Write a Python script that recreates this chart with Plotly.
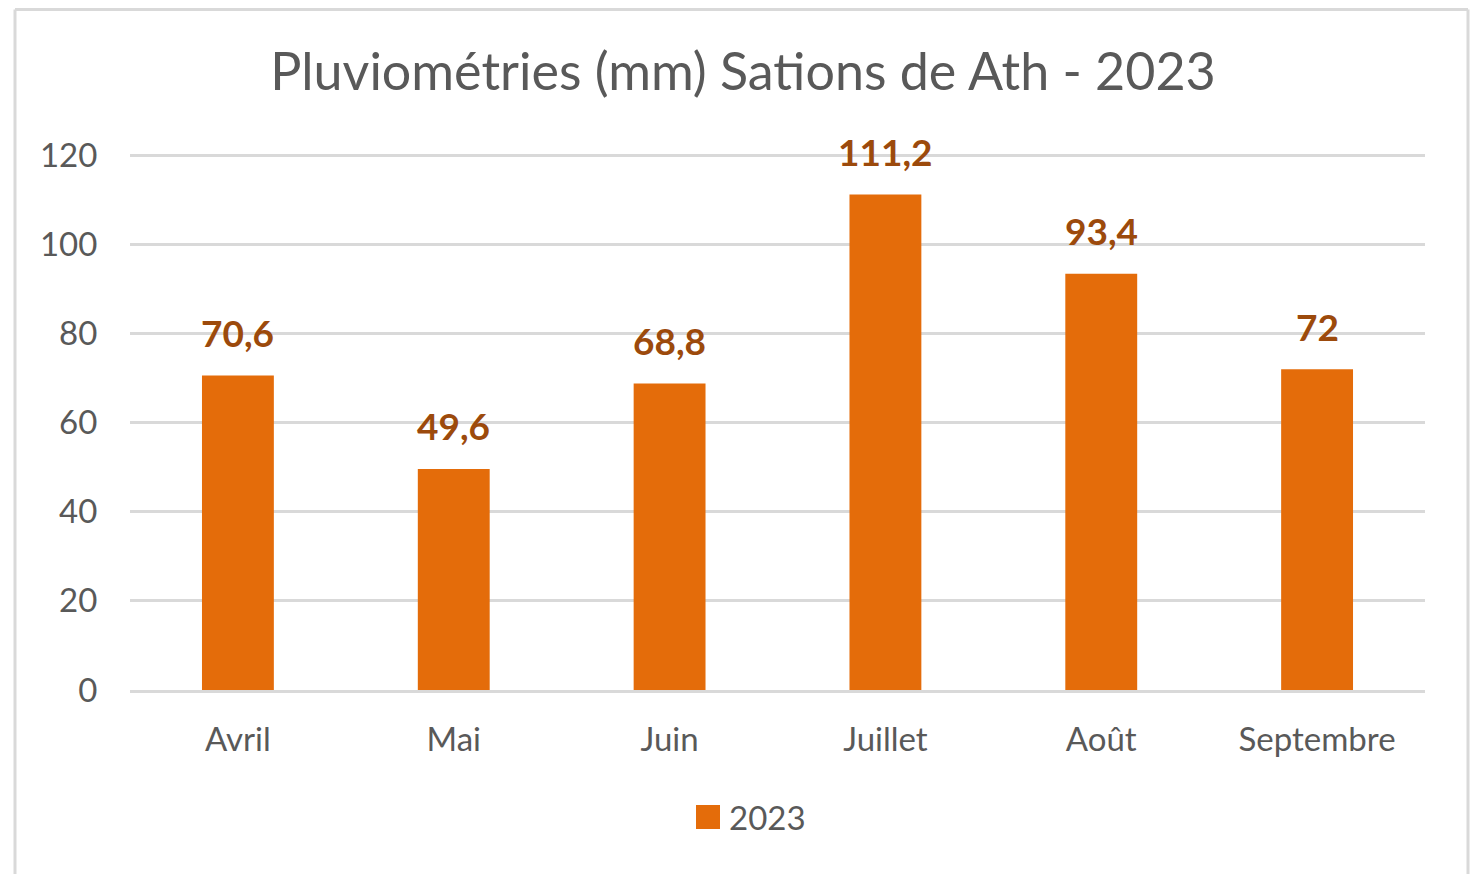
import plotly.graph_objects as go

months = ["Avril", "Mai", "Juin", "Juillet", "Août", "Septembre"]
values_2023 = [70.6, 49.6, 68.8, 111.2, 93.4, 72]
series_name = "2023"
title_text = "Pluviométries (mm) Sations de Ath - 2023"

labels = [f"{v:g}".replace(".", ",") for v in values_2023]

FONT = "Lato"
GRID = "#D9D9D9"
TXT = "#595959"
BAR = "#E46C0A"

# page offset compensation (body margin 8px)
W, H = 1470, 866
PL, PR, PT, PB = 130, 1425, 153, 690  # page pixel plot box
pw, ph = PR - PL, PB - PT


def px(X):
    return (X - PL) / pw


def py(Y):
    return (PB - Y) / ph


fig = go.Figure()
fig.add_trace(go.Bar(
    x=months, y=values_2023, name=series_name,
    marker=dict(color=BAR, line=dict(width=0)),
    showlegend=False,
))

annotations = [
    dict(x=m, y=v, xref="x", yref="y", text=t, showarrow=False,
         yanchor="middle", yshift=43,
         font=dict(family=FONT, size=37, color="#9C4A0C", weight="bold"))
    for m, v, t in zip(months, values_2023, labels)
]
# legend (manual, to match the large square key)
annotations.append(dict(x=px(727), y=py(817), xref="paper", yref="paper", text=series_name,
                        showarrow=False, xanchor="left", yanchor="middle",
                        font=dict(family=FONT, size=33, color=TXT)))

fig.update_layout(
    width=W, height=H,
    paper_bgcolor="white", plot_bgcolor="white",
    margin=dict(l=PL - 8, r=W - (PR - 8), t=PT - 8, b=H - (PB - 8)),
    bargap=0.667,
    title=dict(text=title_text, x=0.5, xanchor="center", y=1 - 64 / H, yanchor="middle",
               font=dict(family=FONT, size=52, color=TXT)),
    showlegend=False,
    xaxis=dict(showgrid=False, showline=True, linecolor=GRID, linewidth=3,
               tickfont=dict(family=FONT, size=33, color=TXT),
               ticks="outside", ticklen=18, tickcolor="rgba(0,0,0,0)"),
    yaxis=dict(range=[0, 120.5], tickvals=[0, 20, 40, 60, 80, 100, 120],
               showgrid=True, gridcolor=GRID, gridwidth=3,
               zeroline=False, showline=False,
               tickfont=dict(family=FONT, size=33, color=TXT),
               ticks="outside", ticklen=25, tickcolor="rgba(0,0,0,0)"),
    annotations=annotations,
    shapes=[
        dict(type="rect", xref="paper", yref="paper", x0=px(696), x1=px(720),
             y0=py(829), y1=py(805), fillcolor=BAR, line=dict(width=0)),
        dict(type="line", xref="paper", yref="paper", x0=px(15), x1=px(15),
             y0=py(900), y1=py(9.5), line=dict(color=GRID, width=3)),
        dict(type="line", xref="paper", yref="paper", x0=px(15), x1=px(1468),
             y0=py(9.5), y1=py(9.5), line=dict(color=GRID, width=3)),
        dict(type="line", xref="paper", yref="paper", x0=px(1468), x1=px(1468),
             y0=py(900), y1=py(9.5), line=dict(color=GRID, width=3)),
    ],
)

fig.write_html("out.html")
